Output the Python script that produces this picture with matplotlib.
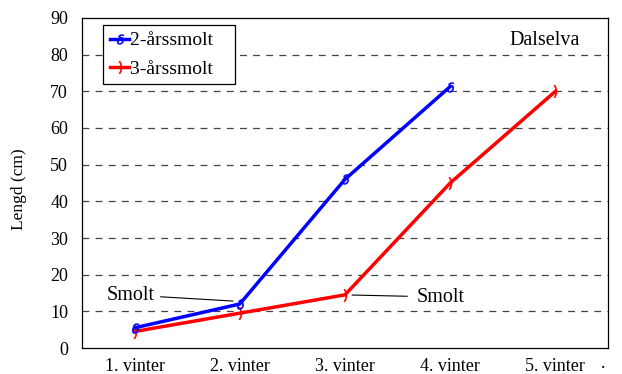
import numpy as np
import matplotlib.pyplot as plt

plt.rcParams['font.family'] = ['Liberation Serif', 'DejaVu Serif']

vintre = ['1. vinter', '2. vinter', '3. vinter', '4. vinter', '5. vinter']
smolt2 = [5.5, 12, 46, 71.3]
smolt3 = [4.5, 9.5, 14.5, 45, 70]


def main():
  fig = plt.figure(figsize=(6.22, 3.74), dpi=100)
  ax = fig.add_axes([0.1318, 0.0695, 0.8457, 0.8824])

  x = np.arange(len(vintre))
  ax.plot(x[:len(smolt2)], smolt2, color='#0000ff', lw=2.5, marker='$\\delta$',
          ms=7, mew=0.4, label='2-årssmolt   ', zorder=4)
  ax.plot(x[:len(smolt3)], smolt3, color='#ff0000', lw=2.5, marker='$)$',
          ms=9, mew=0.4, label='3-årssmolt   ', zorder=3)

  ax.set_xlim(-0.5, 4.5)
  ax.set_ylim(0, 90)
  ax.set_yticks(np.arange(0, 91, 10))
  ax.set_xticks(x)
  ax.set_xticklabels(vintre)
  ax.tick_params(axis='both', length=0, labelsize=13)
  ax.tick_params(axis='y', pad=10)
  ax.tick_params(axis='x', pad=7)

  # dashed horizontal grid, top line is the frame
  for yv in range(10, 90, 10):
    ax.axhline(yv, color='#444444', lw=0.9, dashes=(5.5, 5), zorder=1)

  for s in ax.spines.values():
    s.set_linewidth(0.9)

  ax.set_ylabel('Lengd (cm)', fontsize=12.5)
  ax.yaxis.set_label_coords(-0.1046, 0.482)

  leg = ax.legend(loc='upper left', bbox_to_anchor=(0.04, 0.979), fontsize=14,
                  fancybox=False, framealpha=1, edgecolor='black',
                  handlelength=1.0, handletextpad=0.05, borderpad=0.35,
                  borderaxespad=0, labelspacing=0.55)
  leg.get_frame().set_linewidth(0.9)

  ax.text(0.88, 0.933, 'Dalselva', transform=ax.transAxes, fontsize=14.5,
          ha='center', va='center')

  # smolt annotations
  ax.annotate('Smolt', xy=(0.935, 12.8), xytext=(-0.034, 14.45),
              fontsize=14.5, ha='center', va='center',
              arrowprops=dict(arrowstyle='-', color='black', lw=0.8,
                              shrinkA=2, shrinkB=0))
  ax.annotate('Smolt', xy=(2.067, 14.45), xytext=(2.913, 13.9),
              fontsize=14.5, ha='center', va='center',
              arrowprops=dict(arrowstyle='-', color='black', lw=0.8,
                              shrinkA=5, shrinkB=0))

  ax.text(4.45, -4.1, '.', fontsize=13, ha='center', va='center',
          clip_on=False)

  plt.savefig('out.png', dpi=100)
  plt.clf()


if __name__ == '__main__':
  main()
